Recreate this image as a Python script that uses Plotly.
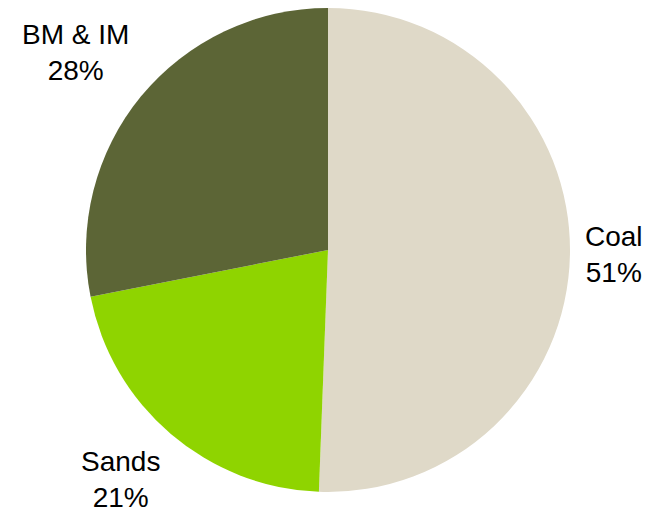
import math
import plotly.graph_objects as go

labels = ["Coal", "Sands", "BM & IM"]
values = [50.6, 21.3, 28.1]
colors = ["#DFD9C8", "#8FD400", "#5C6536"]

W, H = 652, 526
CX, CY, R = 328, 250, 242  # pie centre and radius in pixels (layout)
GAP = 13

fig = go.Figure(go.Pie(
    labels=labels,
    values=values,
    sort=False,
    direction="clockwise",
    rotation=0,
    marker=dict(colors=colors, line=dict(width=0)),
    textinfo="none",
    showlegend=False,
    hoverinfo="label+percent",
    domain=dict(x=[(CX - R) / W, (CX + R) / W], y=[(H - CY - R) / H, (H - CY + R) / H]),
))

# Outside labels placed at the middle angle of each slice (Excel-like placement)
total = sum(values)
cum = 0.0
for lab, v in zip(labels, values):
    mid = (cum + v / 2) / total
    cum += v
    th = 2 * math.pi * mid
    sx, cy_ = math.sin(th), math.cos(th)
    px = CX + (R + GAP) * sx
    py = CY - (R + GAP) * cy_
    xa = "left" if sx > 0.3 else ("right" if sx < -0.3 else "center")
    ya = "bottom" if cy_ > 0.3 else ("top" if cy_ < -0.3 else "middle")
    fig.add_annotation(
        x=px / W, y=(H - py) / H, xref="paper", yref="paper",
        text=f"{lab}<br>{round(100 * v / total)}%",
        showarrow=False, xanchor=xa, yanchor=ya, align="center",
        font=dict(family="Liberation Sans, Arial, sans-serif", size=28, color="black"),
    )

fig.update_layout(
    width=W, height=H,
    margin=dict(l=0, r=0, t=0, b=0),
    paper_bgcolor="white",
    plot_bgcolor="white",
)
fig.write_html("out.html")
